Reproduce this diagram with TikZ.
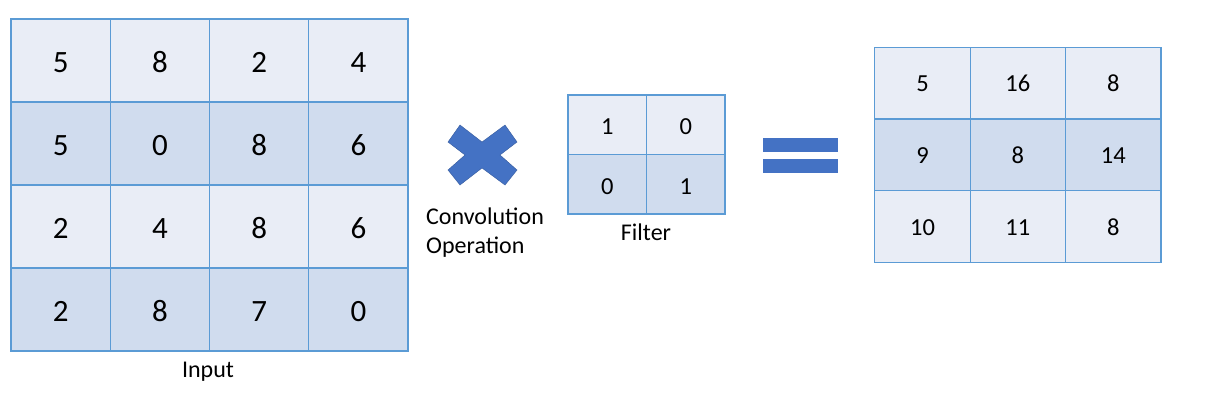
\documentclass[tikz,border=0pt]{standalone}
\usepackage{fontspec}
\setmainfont{Carlito}
\definecolor{lightcell}{HTML}{E9EDF6}
\definecolor{darkcell}{HTML}{D0DCEE}
\definecolor{gridline}{HTML}{5B9BD5}
\definecolor{symblue}{HTML}{4472C4}
\tikzset{
  cell/.style={draw=gridline, line width=1.2pt, inner sep=0pt, anchor=center, text depth=0pt},
  incell/.style={cell, minimum width=99.25pt, minimum height=83pt, text height=24.6pt, font=\fontsize{31}{33}\selectfont},
  ficell/.style={cell, minimum width=78.5pt, minimum height=59.5pt, text height=19.5pt, font=\fontsize{24.5}{26}\selectfont},
  outcell/.style={cell, minimum width=95.4pt, minimum height=71.7pt, text height=17.5pt, font=\fontsize{24.5}{26}\selectfont},
  lbl/.style={font=\fontsize{24}{29}\selectfont, inner sep=0pt},
  symb/.style={fill=symblue, draw=symblue!80!black, line width=0.4pt}
}
\begin{document}
\begin{tikzpicture}[x=1pt,y=-1pt]
\useasboundingbox (0,0) rectangle (1225,408);
% Input grid
\foreach \r/\fc/\a/\b/\c/\d in {1/lightcell/5/8/2/4, 2/darkcell/5/0/8/6, 3/lightcell/2/4/8/6, 4/darkcell/2/8/7/0}{
  \foreach \col/\v in {1/\a, 2/\b, 3/\c, 4/\d}{
    \node[incell, fill=\fc] (in\r\col) at ({11+99.25*(\col-0.5)},{19+83*(\r-0.5)}) {\v};
  }
}
\node[lbl] (inlabel) at (208,372) {Input};
% Cross
\draw[symb] (482,142) -- (505,125) -- (517,142) -- (500,155) -- (517,170) -- (505,185) -- (482,168) -- (460,185) -- (448,170) -- (465,155) -- (448,142) -- (460,125) -- cycle;
\node[lbl, align=left, anchor=north west] (convlabel) at (426,208) {Convolution\\Operation};
% Filter
\foreach \r/\fc/\a/\b in {1/lightcell/1/0, 2/darkcell/0/1}{
  \foreach \col/\v in {1/\a, 2/\b}{
    \node[ficell, fill=\fc] (f\r\col) at ({568+78.5*(\col-0.5)},{95+59.5*(\r-0.5)}) {\v};
  }
}
\node[lbl] (filterlabel) at (646,232) {Filter};
% Equals
\fill[symblue] (763,138) rectangle (838,152);
\fill[symblue] (763,159) rectangle (838,173);
% Output grid
\foreach \r/\fc/\a/\b/\c in {1/lightcell/5/16/8, 2/darkcell/9/8/14, 3/lightcell/10/11/8}{
  \foreach \col/\v in {1/\a, 2/\b, 3/\c}{
    \node[outcell, fill=\fc] (out\r\col) at ({874.8+95.4*(\col-0.5)},{47.3+71.7*(\r-0.5)}) {\v};
  }
}
\end{tikzpicture}
\end{document}
